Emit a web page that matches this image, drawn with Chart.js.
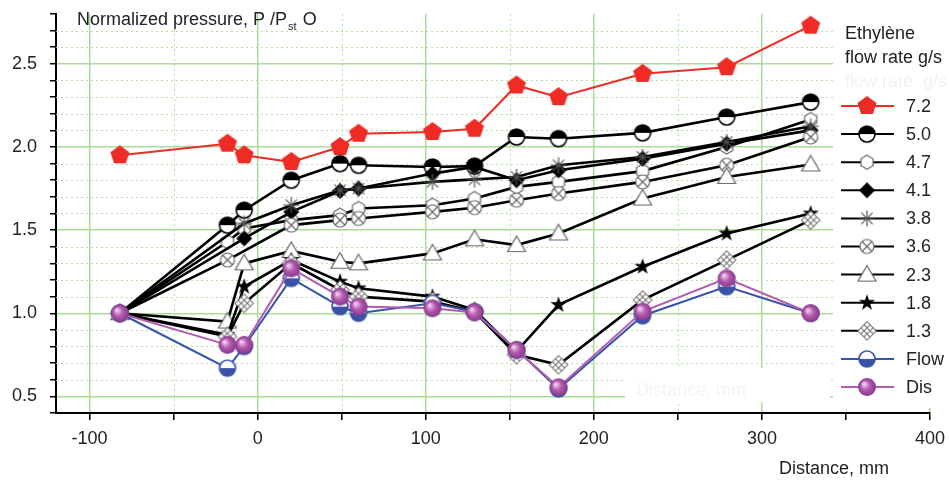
<!DOCTYPE html>
<html>
<head>
<meta charset="utf-8">
<script src="https://cdn.jsdelivr.net/npm/chart.js@4.4.1/dist/chart.umd.min.js"></script>
<style>
  html, body { margin: 0; padding: 0; background: #fff; }
  #wrap { width: 949px; height: 481px; }
</style>
</head>
<body>
<div id="wrap"><canvas id="chart" width="949" height="481"></canvas></div>
<script>
const FONT = "'Liberation Sans', Arial, sans-serif";

// distance along the duct, mm
const distances = [-82, -18, -8, 20, 49, 60, 104, 129, 154, 179, 229, 279, 329];
const seriesLabels = ['7.2', '5.0', '4.7', '4.1', '3.8', '3.6', '2.3', '1.8', '1.3', 'Flow', 'Dis'];

// tick positions
const xTicks = [-100, -50, 0, 50, 100, 150, 200, 250, 300, 350, 400];
const yTicks = [0.4, 0.5, 0.6, 0.7, 0.8, 0.9, 1.0, 1.1, 1.2, 1.3, 1.4, 1.5, 1.6, 1.7,
    1.8, 1.9, 2.0, 2.1, 2.2, 2.3, 2.4, 2.5, 2.6, 2.7, 2.8];

// normalized pressure per ethylene flow rate (null = no point)
const p72   = [1.95, 2.02, 1.95, 1.91, 2.00, 2.08, 2.09, 2.11, 2.37, 2.30, 2.44, 2.48, 2.73];
const p50   = [1.00, 1.53, 1.62, 1.80, 1.90, 1.89, 1.88, 1.885, 2.06, 2.05, 2.085, 2.18, 2.27];
const p47   = [1.00, 1.43, 1.51, 1.56, 1.59, 1.63, 1.65, 1.69, 1.76, 1.79, 1.855, 2.00, 2.165];
const p41   = [1.00, null, 1.45, 1.61, 1.735, 1.75, 1.84, 1.88, 1.80, 1.86, 1.93, 2.02, 2.10];
const p38   = [1.00, null, 1.54, 1.65, 1.74, 1.75, 1.79, 1.805, 1.82, 1.89, 1.94, 2.03, 2.125];
const p36   = [1.00, 1.32, null, 1.53, 1.56, 1.57, 1.61, 1.635, 1.68, 1.72, 1.79, 1.89, 2.06];
const p23   = [1.00, 0.95, 1.30, 1.375, 1.31, 1.30, 1.36, 1.445, 1.41, 1.48, 1.69, 1.82, 1.895];
const p18   = [1.00, 0.87, 1.16, 1.32, 1.19, 1.15, 1.10, 1.02, 0.77, 1.05, 1.28, 1.48, 1.60];
const p13   = [1.00, 0.86, 1.06, 1.30, 1.14, 1.10, 1.07, 1.01, 0.75, 0.69, 1.08, 1.32, 1.56];
const pFlow = [1.00, 0.67, 0.80, 1.21, 1.04, 1.00, 1.06, 1.01, 0.78, 0.545, 0.985, 1.16, 1.00];
const pDis  = [1.00, 0.81, 0.81, 1.27, 1.10, 1.04, 1.03, 1.005, 0.78, 0.555, 1.01, 1.21, 1.00];

const RED = '#ee2b25';
const BLUE = '#3a52a8';
const PURPLE = '#b25cb0';
const GREEN = '#a9dc99';

// ---- marker images ----
function marker(size, draw) {
    const c = document.createElement('canvas');
    c.width = size;
    c.height = size;
    const g = c.getContext('2d');
    g.translate(size / 2, size / 2);
    draw(g);
    return c;
}

function poly(g, n, r, rot) {
    g.beginPath();
    for (let i = 0; i < n; i++) {
        const a = rot + i * 2 * Math.PI / n;
        const px = r * Math.cos(a), py = r * Math.sin(a);
        i ? g.lineTo(px, py) : g.moveTo(px, py);
    }
    g.closePath();
}

const mPentagon = marker(24, g => {
    poly(g, 5, 10, -Math.PI / 2);
    g.fillStyle = RED;
    g.fill();
});

const mHalfBlack = marker(22, g => {
    g.beginPath(); g.arc(0, 0, 8, 0, 2 * Math.PI);
    g.fillStyle = '#fff'; g.fill();
    g.beginPath(); g.arc(0, 0, 8, Math.PI, 2 * Math.PI); g.closePath();
    g.fillStyle = '#000'; g.fill();
    g.beginPath(); g.arc(0, 0, 8, 0, 2 * Math.PI);
    g.lineWidth = 1.6; g.strokeStyle = '#000'; g.stroke();
});

const mHexagon = marker(20, g => {
    poly(g, 6, 7, -Math.PI / 2);
    g.fillStyle = '#fff'; g.fill();
    g.lineWidth = 1.2; g.strokeStyle = '#666'; g.stroke();
});

const mDiamond = marker(20, g => {
    poly(g, 4, 8, -Math.PI / 2);
    g.fillStyle = '#000'; g.fill();
});

const mAsterisk = marker(20, g => {
    g.strokeStyle = '#555'; g.lineWidth = 1.2;
    for (let i = 0; i < 4; i++) {
        const a = i * Math.PI / 4;
        g.beginPath();
        g.moveTo(-8 * Math.cos(a), -8 * Math.sin(a));
        g.lineTo(8 * Math.cos(a), 8 * Math.sin(a));
        g.stroke();
    }
});

const mCrossCircle = marker(20, g => {
    g.beginPath(); g.arc(0, 0, 7, 0, 2 * Math.PI);
    g.fillStyle = '#fff'; g.fill();
    g.lineWidth = 1.2; g.strokeStyle = '#666'; g.stroke();
    g.beginPath();
    g.moveTo(-5, -5); g.lineTo(5, 5);
    g.moveTo(5, -5); g.lineTo(-5, 5);
    g.stroke();
});

const mTriangle = marker(22, g => {
    g.beginPath();
    g.moveTo(0, -9); g.lineTo(9, 6.5); g.lineTo(-9, 6.5);
    g.closePath();
    g.fillStyle = '#fff'; g.fill();
    g.lineWidth = 1.2; g.strokeStyle = '#666'; g.stroke();
});

const mStar = marker(20, g => {
    g.beginPath();
    for (let i = 0; i < 10; i++) {
        const r = i % 2 ? 3.4 : 8.5;
        const a = -Math.PI / 2 + i * Math.PI / 5;
        const px = r * Math.cos(a), py = r * Math.sin(a);
        i ? g.lineTo(px, py) : g.moveTo(px, py);
    }
    g.closePath();
    g.fillStyle = '#000'; g.fill();
});

const mHatch = marker(22, g => {
    g.rotate(Math.PI / 4);
    const s = 6.5;
    g.fillStyle = '#fff';
    g.fillRect(-s, -s, 2 * s, 2 * s);
    g.strokeStyle = '#777'; g.lineWidth = 1.1;
    g.strokeRect(-s, -s, 2 * s, 2 * s);
    g.beginPath();
    for (const t of [-s / 3, s / 3]) {
        g.moveTo(t, -s); g.lineTo(t, s);
        g.moveTo(-s, t); g.lineTo(s, t);
    }
    g.stroke();
});

const mFlow = marker(22, g => {
    g.beginPath(); g.arc(0, 0, 8, 0, 2 * Math.PI);
    g.fillStyle = '#fff'; g.fill();
    g.beginPath(); g.arc(0, 0, 8, 0, Math.PI); g.closePath();
    g.fillStyle = BLUE; g.fill();
    g.beginPath(); g.arc(0, 0, 8, 0, 2 * Math.PI);
    g.lineWidth = 1.6; g.strokeStyle = BLUE; g.stroke();
});

const mDis = marker(22, g => {
    const grad = g.createRadialGradient(-3, -3, 1, 0, 0, 9);
    grad.addColorStop(0, '#f0c8ee');
    grad.addColorStop(0.45, '#b45cb0');
    grad.addColorStop(1, '#86388a');
    g.beginPath(); g.arc(0, 0, 9, 0, 2 * Math.PI);
    g.fillStyle = grad; g.fill();
});

const seriesValues = [p72, p50, p47, p41, p38, p36, p23, p18, p13, pFlow, pDis];
const seriesMarkers = [mPentagon, mHalfBlack, mHexagon, mDiamond, mAsterisk, mCrossCircle,
    mTriangle, mStar, mHatch, mFlow, mDis];
const seriesColors = [RED, '#000', '#000', '#000', '#000', '#000', '#000', '#000', '#000', BLUE, PURPLE];

const datasets = seriesLabels.map((label, i) => ({
    label,
    data: distances.map((x, j) => ({ x, y: seriesValues[i][j] })),
    borderColor: seriesColors[i],
    backgroundColor: seriesColors[i],
    borderWidth: seriesColors[i] === '#000' ? 2.6 : 2,
    pointStyle: seriesMarkers[i],
    pointRadius: 8,
    pointHoverRadius: 8,
    spanGaps: true,
    tension: 0,
    order: seriesLabels.length - i
}));

function isMajor(v, step) {
    const k = v / step;
    return Math.abs(k - Math.round(k)) < 1e-6;
}

// dotted minor grid + the erased box under the plot
const minorGrid = {
    id: 'minorGrid',
    beforeDatasetsDraw(chart) {
        const { ctx, chartArea: a, scales: { x, y } } = chart;
        ctx.save();
        ctx.strokeStyle = '#b4e0a6';
        ctx.lineWidth = 1;
        ctx.setLineDash([2, 3]);
        xTicks.forEach(v => {
            if (isMajor(v, 100)) return;
            const px = Math.round(x.getPixelForValue(v)) + 0.5;
            ctx.beginPath(); ctx.moveTo(px, a.top); ctx.lineTo(px, a.bottom); ctx.stroke();
        });
        yTicks.forEach(v => {
            if (isMajor(v, 0.5) || v < 0.45 || v > 2.75) return;
            const py = Math.round(y.getPixelForValue(v)) + 0.5;
            ctx.beginPath(); ctx.moveTo(a.left, py); ctx.lineTo(a.right, py); ctx.stroke();
        });
        ctx.setLineDash([]);
        ctx.fillStyle = '#fff';
        ctx.fillRect(625, 368, 205, 34);
        ctx.fillStyle = '#f4f4f4';
        ctx.font = '18px ' + FONT;
        ctx.textBaseline = 'alphabetic';
        ctx.fillText('Distance, mm', 636, 396);
        ctx.restore();
    }
};

// axis titles and the legend box
const decorations = {
    id: 'decorations',
    afterDraw(chart) {
        const ctx = chart.ctx;
        ctx.save();
        ctx.fillStyle = '#222';
        ctx.textBaseline = 'alphabetic';
        ctx.textAlign = 'left';

        // y title with subscript
        ctx.font = '18px ' + FONT;
        let tx = 77;
        const t1 = 'Normalized pressure, P /P';
        ctx.fillText(t1, tx, 25);
        tx += ctx.measureText(t1).width;
        ctx.font = '11px ' + FONT;
        ctx.fillText('st', tx + 1, 30);
        tx += ctx.measureText('st').width + 2;
        ctx.font = '18px ' + FONT;
        ctx.fillText(' O', tx, 25);

        // x title
        ctx.textAlign = 'right';
        ctx.fillText('Distance, mm', 889, 474);

        // legend
        ctx.fillStyle = '#fff';
        ctx.fillRect(833, 6, 116, 402);
        ctx.textAlign = 'left';
        ctx.fillStyle = '#f2f2f2';
        ctx.fillText('flow rate  g/s', 845, 87);
        ctx.fillStyle = '#222';
        ctx.fillText('Ethylène', 845, 39);
        ctx.fillText('flow rate g/s', 845, 63);

        ctx.textBaseline = 'middle';
        chart.data.datasets.forEach((ds, i) => {
            const ly = 106 + i * 28.1;
            ctx.strokeStyle = ds.borderColor;
            ctx.lineWidth = 2;
            ctx.beginPath();
            ctx.moveTo(841, ly); ctx.lineTo(894, ly);
            ctx.stroke();
            const img = ds.pointStyle;
            ctx.drawImage(img, 867 - img.width / 2, ly - img.height / 2);
            ctx.fillStyle = '#222';
            ctx.fillText(ds.label, 906, ly + 1);
        });
        ctx.restore();
    }
};

new Chart(document.getElementById('chart'), {
    type: 'line',
    data: { datasets },
    options: {
        responsive: false,
        animation: false,
        layout: { padding: { top: 14, right: 19, left: 0, bottom: 0 } },
        plugins: {
            legend: { display: false },
            tooltip: { enabled: false }
        },
        scales: {
            x: {
                type: 'linear',
                min: -120,
                max: 400,
                afterFit: s => {
                    s.height = 68;
                    s.paddingLeft = 0;
                    s.paddingRight = 0;
                },
                afterBuildTicks: s => { s.ticks = xTicks.map(value => ({ value })); },
                ticks: {
                    autoSkip: false,
                    maxRotation: 0,
                    padding: 10,
                    color: '#222',
                    font: { family: FONT, size: 18, lineHeight: 1 },
                    callback: v => (isMajor(v, 100) ? String(v) : '')
                },
                grid: {
                    color: c => (c.tick && isMajor(c.tick.value, 100) ? GREEN : 'rgba(0,0,0,0)'),
                    lineWidth: 1.5,
                    tickColor: '#000',
                    tickLength: 7,
                    tickWidth: 1.5
                },
                border: { color: '#000', width: 2 }
            },
            y: {
                min: 0.4,
                max: 2.8,
                afterFit: s => {
                    s.width = 56;
                    s.paddingTop = 0;
                    s.paddingBottom = 0;
                },
                afterBuildTicks: s => { s.ticks = yTicks.map(value => ({ value })); },
                ticks: {
                    autoSkip: false,
                    padding: 13,
                    color: '#222',
                    font: { family: FONT, size: 18, lineHeight: 1 },
                    callback: v => (isMajor(v, 0.5) ? v.toFixed(1) : '')
                },
                grid: {
                    color: c => (c.tick && isMajor(c.tick.value, 0.5) ? GREEN : 'rgba(0,0,0,0)'),
                    lineWidth: 1.5,
                    tickColor: '#000',
                    tickLength: 6,
                    tickWidth: 1.5
                },
                border: { color: '#000', width: 2 }
            }
        }
    },
    plugins: [minorGrid, decorations]
});
</script>
</body>
</html>
